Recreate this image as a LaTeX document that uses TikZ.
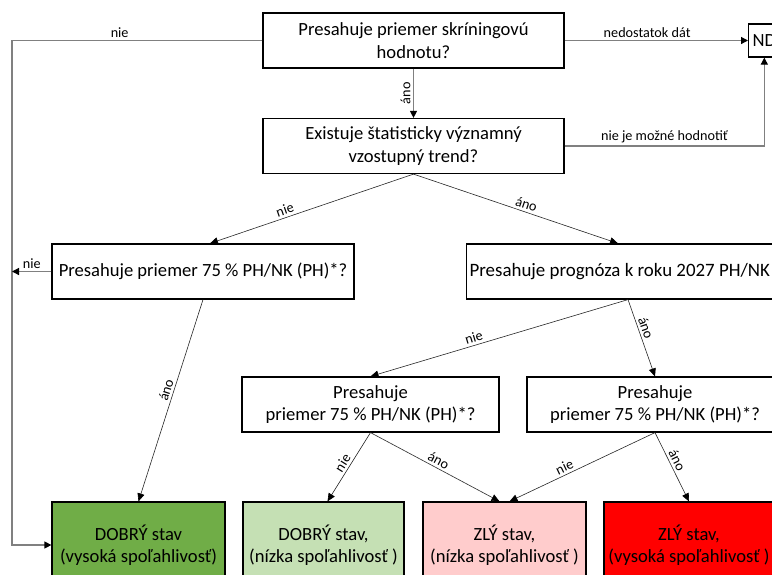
\documentclass[tikz,border=0pt]{standalone}
\usepackage{fontspec}
\setmainfont{Carlito}
\usetikzlibrary{arrows.meta,positioning}
\definecolor{goodhigh}{HTML}{70AD47}
\definecolor{goodlow}{HTML}{C5E0B4}
\definecolor{badlow}{HTML}{FFCCCC}
\definecolor{badhigh}{HTML}{FF0000}
\definecolor{linegray}{HTML}{808080}

\begin{document}
\begin{tikzpicture}[
    x=1pt, y=-1pt,
    every node/.style={font=\fontsize{18.6}{22.5}\selectfont},
    qbox/.style={draw, line width=1.2pt, minimum height=55pt, align=center, inner sep=3pt},
    ndbox/.style={draw, line width=1.2pt, minimum height=33pt, inner xsep=4pt},
    res/.style={draw, line width=1.2pt, minimum height=86pt, align=center},
    lbl/.style={font=\fontsize{14.2}{17}\selectfont, inner sep=2.5pt},
    gline/.style={draw=linegray, line width=1.2pt, -{Triangle[length=7pt,width=7pt,color=black]}},
    dline/.style={draw=black!85, line width=0.6pt, -{Triangle[length=8pt,width=7pt,color=black]}}
]
\useasboundingbox (0,0) rectangle (772,574);
\clip (0,0) rectangle (772,574);

\node[qbox, minimum width=301pt] (screen) at (413.5,40.5) {Presahuje priemer skríningovú\\hodnotu?};
\node[qbox, minimum width=301pt] (trend) at (413.5,146) {Existuje štatisticky významný\\vzostupný trend?};
\node[ndbox, anchor=west] (nd) at (748,40.5) {ND};
\node[qbox, minimum width=302pt] (avgA) at (203,271.5) {Presahuje priemer 75 \% PH/NK (PH)*?};
\node[qbox, anchor=west, font=\fontsize{18.9}{22.5}\selectfont] (prog) at (466,271.5) {Presahuje prognóza k roku 2027 PH/NK (PH)*?};
\node[qbox, minimum width=257pt] (avgB) at (370.5,404.5) {Presahuje\\priemer 75 \% PH/NK (PH)*?};
\node[qbox, minimum width=256pt] (avgC) at (655,404.5) {Presahuje\\priemer 75 \% PH/NK (PH)*?};

% results
\node[res, fill=goodhigh, minimum width=173pt] (goodH) at (138.5,545) {DOBRÝ stav\\(vysoká spoľahlivosť)};
\node[res, fill=goodlow, minimum width=161pt] (goodL) at (323.5,545) {DOBRÝ stav,\\(nízka spoľahlivosť )};
\node[res, fill=badlow, minimum width=163pt] (badL) at (504.5,545) {ZLÝ stav,\\(nízka spoľahlivosť )};
\node[res, fill=badhigh, minimum width=170pt] (badH) at (689,545) {ZLÝ stav,\\(vysoká spoľahlivosť )};

\coordinate (lft) at (12,0);

\draw[gline] (screen.west) -- node[lbl, above, pos=0.57] {nie} (screen.west -| lft) -- (lft |- goodH.west) -- (goodH.west);
\draw[gline] (screen.east) -- node[lbl, above, pos=0.45] {nedostatok dát} (nd.west);
\draw[gline] (trend.east) -- node[lbl, above] {nie je možné hodnotiť} (trend.east -| nd.south) -- (nd.south);
\draw[gline] (screen.south) -- node[lbl, rotate=90, above] {áno} (trend.north);
\draw[gline] (avgA.west) -- node[lbl, above] {nie} (avgA.west -| lft);

\draw[dline] (trend.south) -- node[lbl, sloped, above, pos=0.62] {nie} ([xshift=7pt]avgA.north);
\draw[dline] (trend.south) -- node[lbl, sloped, above, pos=0.54] {áno} ([xshift=152pt]prog.north west);
\draw[dline] (avgA.south) -- node[lbl, sloped, above, pos=0.46] {áno} (goodH.north);
\draw[dline] ([xshift=162pt]prog.south west) -- node[lbl, sloped, above, pos=0.59] {nie} (avgB.north);
\draw[dline] ([xshift=162pt]prog.south west) -- node[lbl, sloped, above, pos=0.4] {áno} (avgC.north);
\draw[dline] (avgB.south) -- node[lbl, sloped, above, pos=0.5] {nie} ([xshift=4pt]goodL.north);
\draw[dline] (avgB.south) -- node[lbl, sloped, above, pos=0.5] {áno} ([xshift=-5pt]badL.north);
\draw[dline] (avgC.south) -- node[lbl, sloped, above, pos=0.6] {nie} ([xshift=5pt]badL.north);
\draw[dline] (avgC.south) -- node[lbl, sloped, above, pos=0.45] {áno} (badH.north);

\end{tikzpicture}
\end{document}
